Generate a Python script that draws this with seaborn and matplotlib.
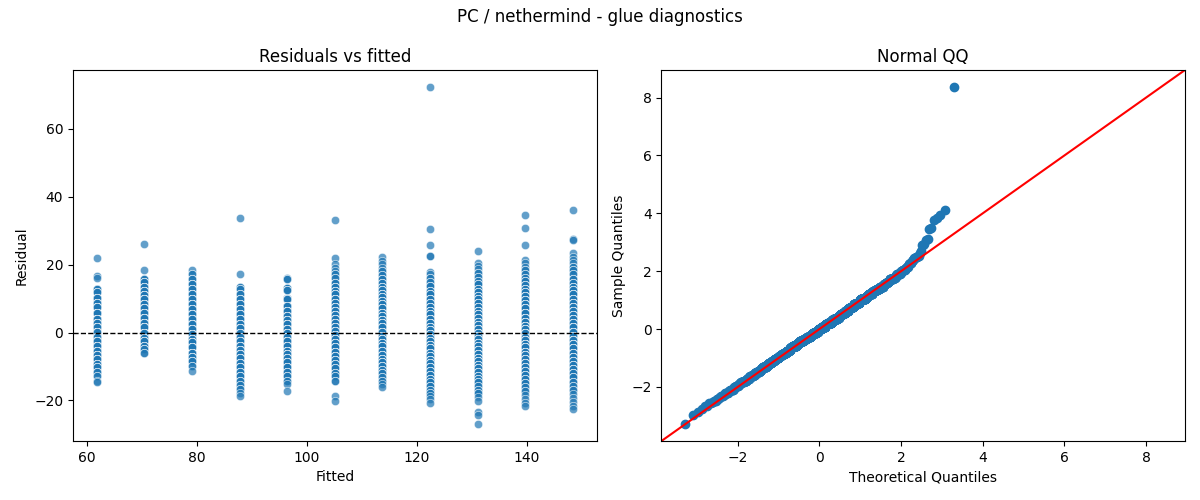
import numpy as np
import pandas as pd
import matplotlib
matplotlib.use("Agg")
import matplotlib.pyplot as plt
import seaborn as sns
from statistics import NormalDist

# fitted level of each column
fitted = [61.8, 70.45, 79.1, 87.75, 96.4, 105.05, 113.7, 122.35, 131.0, 139.65, 148.3]

# residual rows, plus how many points sit on each row
res_1 = [22.1, 16.7, 16.0, 12.9, 11.8, 10.3, 8.8, 7.4, 5.9, 4.1, 2.9, 1.5, 0.2, -1.2, -2.5,
         -3.9, -5.4, -6.7, -7.8, -9.3, -10.3, -11.6, -12.9, -14.2, -14.7]
cnt_1 = [1, 1, 1, 3, 3, 5, 6, 8, 9, 12, 13, 13, 13, 13, 13, 12, 10, 8, 6, 5, 4, 3, 2, 1, 1]

res_2 = [26.2, 18.3, 15.7, 14.9, 13.5, 12.3, 11.0, 9.8, 8.3, 7.1, 5.9, 4.4, 2.9, 1.5, 0.0,
         -1.5, -2.5, -3.9, -4.9, -5.9]
cnt_2 = [1, 1, 3, 4, 5, 7, 8, 11, 12, 13, 13, 13, 12, 11, 10, 7, 6, 4, 3, 2]

res_3 = [18.4, 17.2, 15.7, 14.2, 12.7, 11.3, 9.8, 8.3, 6.9, 5.4, 3.9, 2.5, 1.0, -0.5, -1.8,
         -2.9, -4.4, -5.9, -7.1, -8.3, -9.8, -11.3]
cnt_3 = [1, 2, 3, 4, 5, 6, 8, 9, 11, 12, 13, 13, 12, 11, 10, 10, 8, 6, 5, 4, 2, 1]

res_4 = [33.8, 17.2, 13.5, 12.7, 11.3, 9.8, 8.3, 6.9, 5.4, 3.9, 2.5, 1.2, 0.0, -1.2, -2.5,
         -3.9, -5.1, -6.4, -7.6, -9.0, -10.3, -11.6, -12.7, -14.2, -15.5, -16.7, -17.8, -18.8]
cnt_4 = [1, 1, 2, 2, 3, 4, 5, 6, 7, 8, 10, 11, 11, 12, 12, 11, 11, 10, 8, 7, 6, 5, 4, 3, 2,
         2, 1, 1]

res_5 = [16.2, 15.7, 13.2, 12.5, 10.3, 9.8, 7.8, 6.4, 4.9, 3.7, 2.5, 1.0, 0.0, -1.2, -2.5,
         -3.9, -5.4, -6.4, -7.6, -8.8, -10.3, -11.6, -12.7, -14.2, -15.2, -17.2]
cnt_5 = [1, 2, 3, 3, 5, 5, 7, 8, 10, 11, 12, 12, 13, 12, 12, 11, 9, 8, 7, 6, 5, 4, 3, 2, 1, 1]

res_6 = [33.3, 22.1, 20.1, 19.1, 18.1, 17.2, 16.0, 14.7, 13.5, 12.3, 11.3, 10.0, 8.8, 7.6,
         6.4, 5.1, 3.9, 2.7, 1.5, 0.5, -0.8, -2.0, -3.1, -4.4, -5.7, -6.9, -8.0, -9.3,
         -10.6, -11.8, -12.9, -14.2, -18.6, -20.1]
cnt_6 = [1, 1, 1, 1, 1, 2, 2, 3, 4, 5, 6, 7, 7, 8, 10, 10, 11, 11, 11, 11, 10, 10, 8, 8, 7,
         6, 5, 4, 3, 3, 2, 2, 1, 1]

res_7 = [22.4, 21.1, 20.1, 19.1, 18.1, 16.9, 15.7, 14.7, 13.5, 12.5, 11.3, 10.6, 9.3, 8.3,
         7.1, 5.9, 4.9, 3.7, 2.7, 1.5, 0.2, -1.0, -2.0, -3.1, -4.1, -5.4, -6.7, -7.8, -8.8,
         -9.8, -11.0, -12.0, -13.2, -14.2, -15.2, -16.2]
cnt_7 = [1, 1, 1, 1, 2, 2, 3, 3, 4, 5, 5, 6, 7, 7, 8, 9, 10, 10, 10, 10, 10, 10, 9, 8, 8, 7,
         6, 5, 5, 4, 3, 3, 2, 2, 1, 1]

res_8 = [72.4, 30.6, 25.7, 22.5, 17.8, 17.2, 16.2, 14.9, 13.7, 12.3, 11.3, 9.8, 8.8, 7.6,
         6.4, 5.4, 4.1, 2.9, 1.7, 0.8, -0.5, -1.5, -2.5, -3.7, -4.7, -5.9, -6.9, -8.0, -9.0,
         -10.3, -11.3, -12.5, -13.7, -14.7, -15.9, -16.9, -17.8, -18.8, -19.6, -20.8]
cnt_8 = [1, 1, 1, 2, 1, 1, 2, 2, 3, 3, 4, 5, 5, 6, 7, 7, 8, 9, 10, 10, 10, 10, 10, 10, 9, 8,
         8, 7, 6, 6, 5, 4, 4, 3, 3, 2, 2, 1, 1, 1]

res_9 = [24.0, 20.6, 19.6, 18.6, 17.5, 16.5, 15.2, 14.2, 12.9, 12.0, 10.8, 9.8, 8.6, 7.6,
         6.4, 5.4, 4.4, 3.1, 2.2, 1.0, 0.0, -1.0, -2.0, -3.1, -4.1, -5.1, -6.4, -7.4, -8.3,
         -9.6, -10.6, -11.6, -12.7, -13.7, -14.7, -15.9, -16.9, -17.8, -19.1, -20.1, -23.3,
         -24.3, -27.0]
cnt_9 = [1, 1, 1, 1, 2, 2, 2, 3, 3, 4, 4, 5, 6, 6, 7, 7, 8, 9, 9, 10, 10, 10, 10, 9, 9, 8,
         7, 7, 6, 5, 5, 4, 4, 3, 3, 2, 2, 2, 1, 1, 1, 1, 1]

res_10 = [34.5, 30.9, 25.7, 21.4, 20.4, 19.4, 18.4, 17.2, 16.2, 15.2, 13.9, 12.9, 11.8,
          10.8, 9.6, 8.3, 7.1, 5.9, 4.4, 3.1, 2.0, 1.0, 0.0, -1.2, -2.2, -3.4, -4.4, -5.7,
          -6.7, -7.8, -9.0, -10.3, -11.3, -12.5, -13.7, -14.9, -16.2, -17.2, -18.4, -19.6,
          -20.8, -21.8]
cnt_10 = [1, 1, 1, 1, 1, 1, 2, 2, 2, 3, 3, 4, 4, 5, 6, 6, 7, 8, 9, 10, 10, 10, 10, 10, 10,
          9, 8, 8, 7, 6, 6, 5, 4, 4, 3, 3, 2, 2, 1, 1, 1, 1]

res_11 = [36.1, 27.6, 27.3, 23.3, 22.4, 21.4, 20.4, 19.4, 18.4, 17.2, 15.9, 14.7, 13.5,
          12.5, 11.3, 10.0, 8.8, 7.6, 6.4, 5.1, 3.9, 2.7, 1.5, 0.2, -1.0, -2.2, -3.4, -4.7,
          -5.9, -7.1, -8.3, -9.6, -10.8, -12.0, -13.2, -14.5, -15.7, -16.9, -18.1, -19.4,
          -20.6, -21.6, -22.4]
cnt_11 = [1, 1, 1, 1, 1, 1, 1, 2, 2, 2, 3, 3, 4, 5, 5, 6, 6, 7, 8, 9, 10, 10, 10, 10, 10, 10,
          9, 8, 7, 7, 6, 5, 5, 4, 3, 3, 2, 2, 1, 1, 1, 1, 1]

residuals = [res_1, res_2, res_3, res_4, res_5, res_6, res_7, res_8, res_9, res_10, res_11]
counts = [cnt_1, cnt_2, cnt_3, cnt_4, cnt_5, cnt_6, cnt_7, cnt_8, cnt_9, cnt_10, cnt_11]

# long table: one row per observation
rows = []
for f, res, cnt in zip(fitted, residuals, counts):
    for r, c in zip(res, cnt):
        rows += [(f, r)] * c
df = pd.DataFrame(rows, columns=["fitted", "resid"])

# normal QQ on standardized residuals (plotting positions i/(n+1))
z = np.sort((df["resid"] - df["resid"].mean()) / df["resid"].std(ddof=0))
n = len(z)
theo = np.array([NormalDist().inv_cdf(i / (n + 1)) for i in range(1, n + 1)])

fig, (ax1, ax2) = plt.subplots(
    1, 2, figsize=(12, 5), dpi=100,
    gridspec_kw=dict(left=73 / 1200, right=1185 / 1200, bottom=0.118, top=0.86,
                     wspace=0.124),
)

# Residuals vs fitted
sns.scatterplot(data=df, x="fitted", y="resid", alpha=0.7, ax=ax1)
ax1.axhline(0, color="black", linestyle="--", linewidth=1)
ax1.set_title("Residuals vs fitted")
ax1.set_xlabel("Fitted")
ax1.set_ylabel("Residual")

# Normal QQ
sns.scatterplot(x=theo, y=z, s=36, color="#1f77b4", edgecolor="#1f77b4", linewidth=1, ax=ax2)
ax2.autoscale_view()
x0, x1 = ax2.get_xlim()
y0, y1 = ax2.get_ylim()
lo, hi = min(x0, y0), max(x1, y1)
ax2.plot([lo, hi], [lo, hi], color="red")
ax2.set_xlim(lo, hi)
ax2.set_ylim(lo, hi)
ax2.set_title("Normal QQ")
ax2.set_xlabel("Theoretical Quantiles")
ax2.set_ylabel("Sample Quantiles")

fig.suptitle("PC / nethermind - glue diagnostics", y=0.985)
fig.savefig("out.png")
